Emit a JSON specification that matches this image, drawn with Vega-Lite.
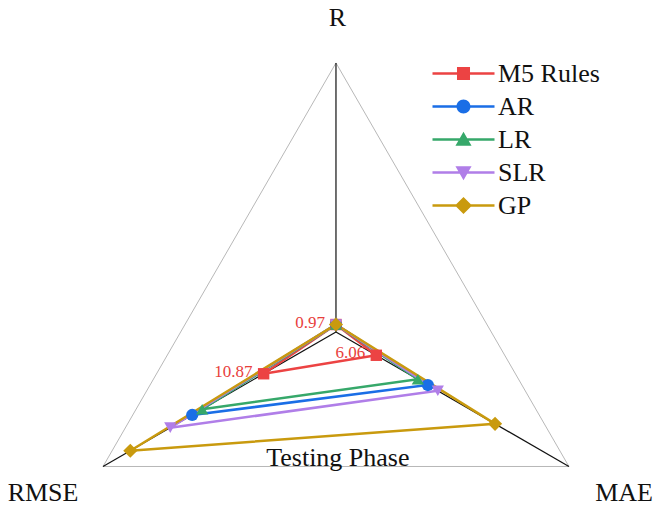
{
  "$schema": "https://vega.github.io/schema/vega-lite/v6.json",
  "width": 655,
  "height": 509,
  "autosize": "none",
  "padding": 0,
  "background": "white",
  "config": {"view": {"stroke": null}, "font": "Liberation Serif"},
  "resolve": {"legend": {"color": "independent", "shape": "independent"}},
  "datasets": {
    "metrics": [
      {"metric": "R", "angle": 90, "idx": 0},
      {"metric": "MAE", "angle": -30, "idx": 1},
      {"metric": "RMSE", "angle": 210, "idx": 2}
    ],
    "scores": [
      {"model": "M5 Rules", "metric": "R", "value": 0.97, "label": "0.97"},
      {"model": "M5 Rules", "metric": "MAE", "value": 6.06, "label": "6.06"},
      {"model": "M5 Rules", "metric": "RMSE", "value": 10.87, "label": "10.87"},
      {"model": "AR", "metric": "R", "value": 0.97, "label": ""},
      {"model": "AR", "metric": "MAE", "value": 13.8, "label": ""},
      {"model": "AR", "metric": "RMSE", "value": 21.6, "label": ""},
      {"model": "LR", "metric": "R", "value": 0.97, "label": ""},
      {"model": "LR", "metric": "MAE", "value": 12.3, "label": ""},
      {"model": "LR", "metric": "RMSE", "value": 20.1, "label": ""},
      {"model": "SLR", "metric": "R", "value": 0.97, "label": ""},
      {"model": "SLR", "metric": "MAE", "value": 15.3, "label": ""},
      {"model": "SLR", "metric": "RMSE", "value": 24.9, "label": ""},
      {"model": "GP", "metric": "R", "value": 0.97, "label": ""},
      {"model": "GP", "metric": "MAE", "value": 23.9, "label": ""},
      {"model": "GP", "metric": "RMSE", "value": 30.9, "label": ""}
    ],
    "names": [
      {"text": "R", "x": 0.005, "y": 1.167},
      {"text": "RMSE", "x": -1.089, "y": -0.6},
      {"text": "MAE", "x": 1.071, "y": -0.6},
      {"text": "Testing Phase", "x": 0.007, "y": -0.468}
    ]
  },
  "layer": [
    {
      "data": {"name": "metrics"},
      "transform": [
        {"calculate": "cos(datum.angle*PI/180)", "as": "x"},
        {"calculate": "sin(datum.angle*PI/180)", "as": "y"}
      ],
      "mark": {"type": "line", "interpolate": "linear-closed", "color": "#b8b8b8", "strokeWidth": 1},
      "encoding": {
        "x": {"field": "x", "type": "quantitative", "scale": {"domain": [-1.249, 1.186], "nice": false, "zero": false}, "axis": null},
        "y": {"field": "y", "type": "quantitative", "scale": {"domain": [-0.658, 1.234], "nice": false, "zero": false}, "axis": null},
        "order": {"field": "idx"}
      }
    },
    {
      "data": {"name": "metrics"},
      "transform": [
        {"calculate": "cos(datum.angle*PI/180)", "as": "x"},
        {"calculate": "sin(datum.angle*PI/180)", "as": "y"}
      ],
      "mark": {"type": "rule", "color": "#111111", "strokeWidth": 1.2},
      "encoding": {
        "x": {"field": "x", "type": "quantitative"},
        "y": {"field": "y", "type": "quantitative"},
        "x2": {"datum": 0},
        "y2": {"datum": 0}
      }
    },
    {
      "data": {"name": "scores"},
      "transform": [
        {"lookup": "metric", "from": {"data": {"name": "metrics"}, "key": "metric", "fields": ["angle", "idx"]}},
        {"calculate": "datum.value/35*cos(datum.angle*PI/180)", "as": "x"},
        {"calculate": "datum.value/35*sin(datum.angle*PI/180)", "as": "y"},
        {"filter": "datum.metric == 'R'"}
      ],
      "mark": {"type": "point", "filled": true, "opacity": 0, "size": 961},
      "encoding": {
        "x": {"field": "x", "type": "quantitative"},
        "y": {"field": "y", "type": "quantitative"},
        "color": {
          "field": "model", "type": "nominal",
          "scale": {"domain": ["M5 Rules", "AR", "LR", "SLR", "GP"], "range": ["#ec4343", "#1a6ee6", "#36a86a", "#b07ee8", "#c99a0e"]},
          "legend": {
            "title": null, "orient": "none", "legendX": 448, "legendY": 58,
            "labelFont": "Liberation Serif", "labelFontSize": 26, "labelColor": "#111111",
            "symbolSize": 961, "symbolStrokeWidth": 0, "labelOffset": 19, "rowPadding": 4,
            "padding": 0, "symbolOpacity": 1,
            "encode": {"symbols": {"update": {"opacity": {"value": 1}}}}
          }
        },
        "shape": {
          "field": "model", "type": "nominal",
          "scale": {"domain": ["M5 Rules", "AR", "LR", "SLR", "GP"], "range": [
            "M-2,-0.08H2V0.08H-2Z M-0.42,-0.42H0.42V0.42H-0.42Z",
            "M-2,-0.08H2V0.08H-2Z M-0.45,0A0.45,0.45 0 1 1 0.45,0A0.45,0.45 0 1 1 -0.45,0Z",
            "M-2,-0.08H2V0.08H-2Z M0,-0.5L0.52,0.4H-0.52Z",
            "M-2,-0.08H2V0.08H-2Z M0,0.5L-0.52,-0.4H0.52Z",
            "M-2,-0.08H2V0.08H-2Z M0,-0.55L0.55,0L0,0.55L-0.55,0Z"
          ]},
          "legend": {
            "title": null, "orient": "none", "legendX": 448, "legendY": 58,
            "labelFont": "Liberation Serif", "labelFontSize": 26, "labelColor": "#111111",
            "symbolSize": 961, "symbolStrokeWidth": 0, "labelOffset": 19, "rowPadding": 4,
            "padding": 0, "symbolOpacity": 1,
            "encode": {"symbols": {"update": {"opacity": {"value": 1}}}}
          }
        }
      }
    },
    {
      "data": {"name": "scores"},
      "transform": [
        {"lookup": "metric", "from": {"data": {"name": "metrics"}, "key": "metric", "fields": ["angle", "idx"]}},
        {"calculate": "datum.value/35*cos(datum.angle*PI/180)", "as": "x"},
        {"calculate": "datum.value/35*sin(datum.angle*PI/180)", "as": "y"}
      ],
      "layer": [
        {
          "mark": {"type": "line", "interpolate": "linear-closed", "strokeWidth": 2.5},
          "encoding": {
            "x": {"field": "x", "type": "quantitative"},
            "y": {"field": "y", "type": "quantitative"},
            "order": {"field": "idx"},
            "color": {"field": "model", "type": "nominal", "legend": null}
          }
        },
        {
          "transform": [{"filter": "datum.model == 'M5 Rules'"}],
          "mark": {"type": "point", "shape": "square", "filled": true, "opacity": 1, "size": 130},
          "encoding": {
            "x": {"field": "x", "type": "quantitative"},
            "y": {"field": "y", "type": "quantitative"},
            "color": {"field": "model", "type": "nominal", "legend": null}
          }
        },
        {
          "transform": [{"filter": "datum.model == 'AR'"}],
          "mark": {"type": "point", "shape": "circle", "filled": true, "opacity": 1, "size": 150},
          "encoding": {
            "x": {"field": "x", "type": "quantitative"},
            "y": {"field": "y", "type": "quantitative"},
            "color": {"field": "model", "type": "nominal", "legend": null}
          }
        },
        {
          "transform": [{"filter": "datum.model == 'LR'"}],
          "mark": {"type": "point", "shape": "triangle-up", "filled": true, "opacity": 1, "size": 150},
          "encoding": {
            "x": {"field": "x", "type": "quantitative"},
            "y": {"field": "y", "type": "quantitative"},
            "color": {"field": "model", "type": "nominal", "legend": null}
          }
        },
        {
          "transform": [{"filter": "datum.model == 'SLR'"}],
          "mark": {"type": "point", "shape": "triangle-down", "filled": true, "opacity": 1, "size": 150},
          "encoding": {
            "x": {"field": "x", "type": "quantitative"},
            "y": {"field": "y", "type": "quantitative"},
            "color": {"field": "model", "type": "nominal", "legend": null}
          }
        },
        {
          "transform": [{"filter": "datum.model == 'GP'"}],
          "mark": {"type": "point", "shape": "diamond", "filled": true, "opacity": 1, "size": 200},
          "encoding": {
            "x": {"field": "x", "type": "quantitative"},
            "y": {"field": "y", "type": "quantitative"},
            "color": {"field": "model", "type": "nominal", "legend": null}
          }
        },
        {
          "transform": [{"filter": "datum.label != ''"}],
          "mark": {"type": "text", "align": "right", "baseline": "middle", "dx": -11, "dy": -2, "font": "Liberation Serif", "fontSize": 17, "color": "#e8403c"},
          "encoding": {
            "x": {"field": "x", "type": "quantitative"},
            "y": {"field": "y", "type": "quantitative"},
            "text": {"field": "label"}
          }
        }
      ]
    },
    {
      "data": {"name": "names"},
      "mark": {"type": "text", "align": "center", "baseline": "middle", "font": "Liberation Serif", "fontSize": 26, "color": "#111111"},
      "encoding": {
        "x": {"field": "x", "type": "quantitative"},
        "y": {"field": "y", "type": "quantitative"},
        "text": {"field": "text"}
      }
    }
  ]
}
